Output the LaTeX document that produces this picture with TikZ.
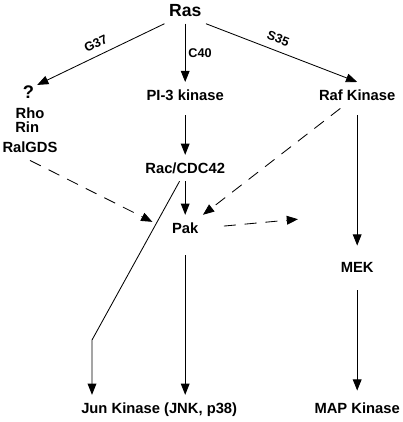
\documentclass[tikz,border=0pt]{standalone}
\usepackage{fontspec}
\setmainfont{Liberation Sans}
\usetikzlibrary{arrows.meta}

\begin{document}
\begin{tikzpicture}[>={Triangle[length=2.8mm,width=2.2mm]}, line width=0.6pt,
  every node/.style={font=\bfseries\fontsize{10.5}{12}\selectfont, inner xsep=3pt, inner ysep=5.5pt, text height=0.72em, text depth=0pt},
  lbl/.style={font=\bfseries\fontsize{9}{10}\selectfont, inner sep=2pt},
  dsh/.style={dash pattern=on 3mm off 2.2mm}]

\useasboundingbox (0,0) rectangle (10.075,-10.55);

% top and the three effector branches
\node[font=\bfseries\fontsize{12.5}{14}\selectfont, inner ysep=5pt] (ras) at (4.63,-0.28) {Ras};
\node[font=\bfseries\fontsize{13}{14}\selectfont, inner sep=2pt] (q) at (0.71,-2.33) {?};
\node (rho) at (0.75,-2.83) {Rho};
\node (rin) at (0.68,-3.18) {Rin};
\node (ralgds) at (0.75,-3.68) {RalGDS};
\node (pi3) at (4.63,-2.38) {PI-3 kinase};
\node (raf) at (8.93,-2.38) {Raf Kinase};

% middle
\node (rac) at (4.63,-4.2) {Rac/CDC42};
\node (pak) at (4.63,-5.7) {Pak};
\node (mek) at (8.93,-6.68) {MEK};

% bottom
\node (jun) at (3.98,-10.2) {Jun Kinase (JNK, p38)};
\node (map) at (8.93,-10.2) {MAP Kinase};

\coordinate (bend) at (2.3,-8.5);
\coordinate (pakout) at (7.45,-5.48);

% Ras effector mutants
\draw[->] (ras.south west) -- node[lbl, sloped, above=3pt] {G37} (q.north east);
\draw[->] (ras) -- node[lbl, right] {C40} (pi3);
\draw[->] (ras.south east) -- node[lbl, sloped, above=3pt, pos=0.45] {S35} (raf.north);

% solid paths
\draw[->, shorten <=5pt] (pi3) -- (rac);
\draw[->] (rac) -- (pak);
\draw[->, shorten <=10pt] (pak.south) -- (pak.south |- jun.north);
\draw[->] ([xshift=-4pt]rac.south) -- (bend) -- (bend |- jun.north);
\draw[->, shorten <=5pt, shorten >=6pt] (raf) -- (mek);
\draw[->, shorten <=7pt, shorten >=3pt] (mek) -- (map);

% dashed (possible) links
\draw[->, dsh, shorten >=12pt] (ralgds.south) -- ([yshift=-1pt]pak.west);
\draw[->, dsh] ([xshift=-12pt]raf.south) -- (pak.north east);
\draw[->, dsh, shorten <=15pt] (pak.east) -- (pakout);

\end{tikzpicture}
\end{document}
